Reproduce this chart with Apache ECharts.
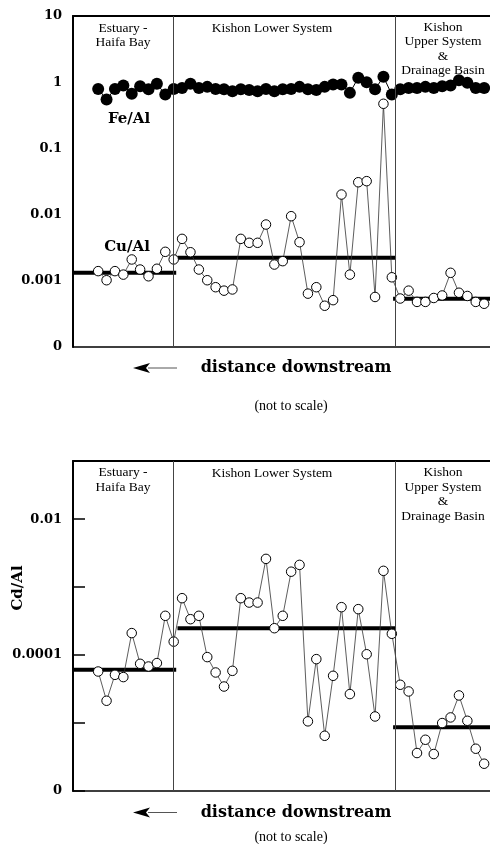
<!DOCTYPE html>
<html><head><meta charset="utf-8">
<script src="https://cdn.jsdelivr.net/npm/echarts@6/dist/echarts.min.js"></script>
<style>html,body{margin:0;padding:0;background:#fff}#c{width:490px;height:844px}</style>
</head><body><div id="c"></div>
<script>
// sample index along the river (equally spaced, not to scale)
const feAl = [0.79,0.55,0.79,0.89,0.67,0.87,0.78,0.95,0.65,0.79,0.82,0.95,0.82,0.85,0.79,0.78,0.73,0.78,0.76,0.73,0.79,0.73,0.78,0.79,0.85,0.78,0.76,0.85,0.92,0.92,0.69,1.17,1.0,0.78,1.21,0.65,0.78,0.82,0.82,0.85,0.82,0.87,0.89,1.07,0.98,0.82,0.82];
const cuAl = [0.00140,0.00102,0.00140,0.00124,0.00210,0.00148,0.00117,0.00152,0.00274,0.00210,0.00430,0.00270,0.00148,0.00102,0.00080,0.00071,0.00074,0.00430,0.00375,0.00375,0.00708,0.00176,0.00198,0.00946,0.00383,0.00064,0.00080,0.00042,0.00051,0.0201,0.00124,0.0308,0.0320,0.00057,0.472,0.00113,0.00054,0.00071,0.00048,0.00048,0.00055,0.00060,0.00132,0.00066,0.00059,0.00048,0.00045];
const cdAl = [5.74e-5,2.13e-5,5.13e-5,4.75e-5,2.11e-4,7.45e-5,6.80e-5,7.63e-5,3.79e-4,1.58e-4,6.89e-4,3.38e-4,3.79e-4,9.35e-5,5.55e-5,3.45e-5,5.87e-5,6.89e-4,5.94e-4,5.94e-4,2.61e-3,2.49e-4,3.79e-4,1.69e-3,2.13e-3,1.06e-5,8.73e-5,6.5e-6,4.96e-5,5.08e-4,2.67e-5,4.75e-4,1.03e-4,1.25e-5,1.74e-3,2.06e-4,3.66e-5,2.92e-5,3.62e-6,5.68e-6,3.50e-6,1.0e-5,1.21e-5,2.55e-5,1.08e-5,4.19e-6,2.52e-6];
// region boundaries on the distance axis
const regionBounds = [-3, 8.95, 35.35, 46.7];
const meanSpans = [[-3, 9.3], [9.45, 35.5], [35.15, 46.7]];
const cuMeans = [0.00132, 0.00222, 0.000535];
const cdMeans = [6.1e-5, 2.49e-4, 8.7e-6];
// tick labels by decade exponent
const topTickLabels = {'-4':'0','-3':'0.001','-2':'0.01','-1':'0.1','0':'1','1':'10'};
const bottomTickLabels = {'-6':'0','-4':'0.0001','-2':'0.01'};
const regionNames = ['Estuary -\nHaifa Bay', 'Kishon Lower System', 'Kishon\nUpper System\n&\nDrainage Basin'];

function fmt(map){
  return function(v){
    const e = Math.log10(v), r = Math.round(e);
    if (Math.abs(e - r) > 0.01) return '';
    return map[String(r)] !== undefined ? map[String(r)] : '';
  };
}
const idx = arr => arr.map((v,i)=>[i,v]);
const labelStyle = {fontFamily:'DejaVu Serif', fontWeight:'bold', fontSize:13, color:'#000', margin:11};

function meanSeries(means, xi, yi){
  return means.map((m,k)=>({
    type:'line', xAxisIndex:xi, yAxisIndex:yi, symbol:'none', silent:true, z:2,
    lineStyle:{color:'#000', width:4},
    data:[[meanSpans[k][0], m],[meanSpans[k][1], m]]
  }));
}
const dividerMark = {
  symbol:'none', silent:true, label:{show:false},
  lineStyle:{color:'#444', width:1, type:'solid'},
  data:[{xAxis:regionBounds[1]},{xAxis:regionBounds[2]}]
};

const chart = echarts.init(document.getElementById('c'), null, {renderer:'canvas'});
const xBase = {type:'value', min:regionBounds[0], max:regionBounds[3],
  axisTick:{show:false}, axisLabel:{show:false}, splitLine:{show:false}};
const serif = 'Liberation Serif';
function txt(x,y,text,opt){
  return {type:'text', silent:true, style:Object.assign({
    x:x, y:y, text:text, fill:'#000', fontFamily:serif, fontSize:13.5,
    textAlign:'center', textVerticalAlign:'top', lineHeight:14.5}, opt||{})};
}
function arrow(y){
  return [
    {type:'line', silent:true, shape:{x1:148,y1:y,x2:177,y2:y}, style:{stroke:'#555', lineWidth:1}},
    {type:'polygon', silent:true, shape:{points:[[133,y],[150,y-5],[146,y],[150,y+5]]}, style:{fill:'#000'}}
  ];
}
const bold = {fontFamily:'DejaVu Serif', fontWeight:'bold'};

chart.setOption({
  animation:false,
  backgroundColor:'#fff',
  grid:[
    {left:73, top:16, width:417, height:331},
    {left:73, top:461, width:417, height:330}
  ],
  xAxis:[
    Object.assign({}, xBase, {gridIndex:0, axisLine:{show:true, onZero:false, lineStyle:{color:'#000', width:1.5}}}),
    Object.assign({}, xBase, {gridIndex:0, position:'top', axisLine:{show:true, onZero:false, lineStyle:{color:'#000', width:2}}}),
    Object.assign({}, xBase, {gridIndex:1, axisLine:{show:true, onZero:false, lineStyle:{color:'#000', width:1.5}}}),
    Object.assign({}, xBase, {gridIndex:1, position:'top', axisLine:{show:true, onZero:false, lineStyle:{color:'#000', width:2}}})
  ],
  yAxis:[
    {type:'log', logBase:10, gridIndex:0, min:1e-4, max:10,
     axisLine:{show:true, onZero:false, lineStyle:{color:'#000', width:2}},
     axisTick:{show:false}, splitLine:{show:false},
     axisLabel:Object.assign({formatter:fmt(topTickLabels)}, labelStyle)},
    {type:'log', logBase:10, gridIndex:1, min:1e-6, max:0.072,
     axisLine:{show:true, onZero:false, lineStyle:{color:'#000', width:2}},
     axisTick:{show:true, inside:true, length:12, lineStyle:{color:'#000', width:1.5}},
     splitLine:{show:false},
     axisLabel:Object.assign({formatter:fmt(bottomTickLabels)}, labelStyle)}
  ],
  series:[
    ...meanSeries(cuMeans, 0, 0),
    {name:'Fe/Al', type:'line', xAxisIndex:0, yAxisIndex:0, data:idx(feAl), z:4,
     symbol:'circle', symbolSize:12, itemStyle:{color:'#000'}, lineStyle:{color:'#000', width:1},
     markLine:dividerMark},
    {name:'Cu/Al', type:'line', xAxisIndex:0, yAxisIndex:0, data:idx(cuAl), z:3,
     symbol:'circle', symbolSize:9.5, showAllSymbol:true,
     itemStyle:{color:'#fff', borderColor:'#000', borderWidth:1}, lineStyle:{color:'#333', width:0.8}},
    ...meanSeries(cdMeans, 2, 1),
    {name:'Cd/Al', type:'line', xAxisIndex:2, yAxisIndex:1, data:idx(cdAl), z:3,
     symbol:'circle', symbolSize:9.5, showAllSymbol:true,
     itemStyle:{color:'#fff', borderColor:'#000', borderWidth:1}, lineStyle:{color:'#333', width:0.8},
     markLine:dividerMark}
  ],
  graphic:[
    txt(123, 20.75, regionNames[0]),
    txt(272, 20.75, regionNames[1]),
    txt(443, 20, regionNames[2]),
    txt(123, 465.4, regionNames[0]),
    txt(272, 466.7, regionNames[1]),
    txt(443, 465.4, regionNames[2]),
    txt(129, 119, 'Fe/Al', Object.assign({fontSize:15, textVerticalAlign:'middle'}, bold)),
    txt(127, 247, 'Cu/Al', Object.assign({fontSize:15, textVerticalAlign:'middle'}, bold)),
    {type:'text', silent:true, x:18, y:588, rotation:Math.PI/2,
     style:{x:0, y:0, text:'Cd/Al', fill:'#000', fontFamily:'DejaVu Serif', fontWeight:'bold', fontSize:15, textAlign:'center', textVerticalAlign:'middle'}},
    txt(296, 368, 'distance downstream', Object.assign({fontSize:16, textVerticalAlign:'middle'}, bold)),
    txt(291, 406, '(not to scale)', {fontSize:14, textVerticalAlign:'middle'}),
    txt(296, 812.5, 'distance downstream', Object.assign({fontSize:16, textVerticalAlign:'middle'}, bold)),
    txt(291, 837, '(not to scale)', {fontSize:14, textVerticalAlign:'middle'}),
    ...arrow(368),
    ...arrow(812.5)
  ]
});
</script></body></html>
